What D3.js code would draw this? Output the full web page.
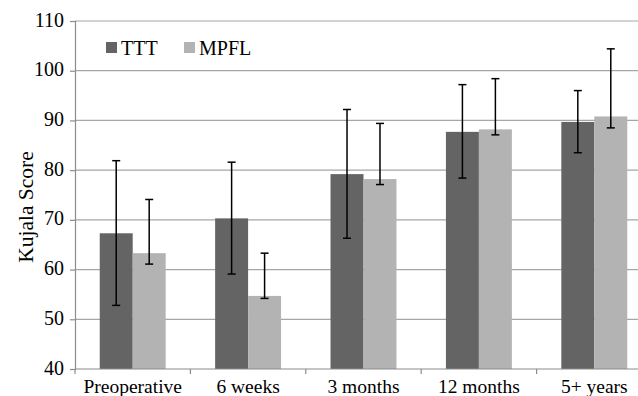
<!DOCTYPE html>
<html>
<head>
<meta charset="utf-8">
<script src="https://cdn.jsdelivr.net/npm/d3@7"></script>
<style>
  body { margin: 0; background: #fff; }
  svg text { font-family: "Liberation Serif", "Times New Roman", serif; fill: #000; }
</style>
</head>
<body>
<svg id="chart" width="638" height="396"></svg>
<script>
// --- data
var categories = ["Preoperative", "6 weeks", "3 months", "12 months", "5+ years"];
var seriesNames = ["TTT", "MPFL"];
var tttMean  = [67.3, 70.3, 79.2, 87.7, 89.7];
var tttHigh  = [81.9, 81.6, 92.2, 97.2, 96.0];
var tttLow   = [52.8, 59.1, 66.3, 78.4, 83.5];
var mpflMean = [63.3, 54.7, 78.2, 88.2, 90.8];
var mpflHigh = [74.1, 63.3, 89.4, 98.4, 104.4];
var mpflLow  = [61.1, 54.2, 77.1, 87.1, 88.5];
var yTicks = [40, 50, 60, 70, 80, 90, 100, 110];

var colors = {TTT: "#646464", MPFL: "#b3b3b3"};
var axisColor = "#8c8c8c";

var svg = d3.select("#chart");

// build rows from the arrays
var rows = categories.map(function(c, i){
    return {
        cat: c,
        values: [
            {series: "TTT",  mean: tttMean[i],  hi: tttHigh[i],  lo: tttLow[i]},
            {series: "MPFL", mean: mpflMean[i], hi: mpflHigh[i], lo: mpflLow[i]}
        ]
    };
});

var x = d3.scaleBand().domain(categories).range([75, 652]).padding(0);
var xSub = d3.scaleBand().domain(seriesNames).range([0, x.bandwidth()]).paddingInner(0).paddingOuter(0.75);
var y = d3.scaleLinear().domain([40, 110]).range([369, 21]);

// -- gridlines
svg.append("g").attr("class", "grid")
    .selectAll("line").data(yTicks.filter(function(d){ return d > 40; }))
    .enter().append("line")
    .attr("x1", 75).attr("x2", 652)
    .attr("y1", function(d){ return y(d); })
    .attr("y2", function(d){ return y(d); })
    .style("stroke", "#a6a6a6").style("stroke-width", 1.2);

// -- y axis
var yAxis = svg.append("g").attr("transform", "translate(75,0)")
    .call(d3.axisLeft(y).tickValues(yTicks).tickSize(5).tickPadding(6));
yAxis.select(".domain").style("stroke", axisColor).style("stroke-width", 1.2);
yAxis.selectAll(".tick line").style("stroke", axisColor).style("stroke-width", 1.2);
yAxis.selectAll("text")
    .style("font-size", "20px")
    .style("font-family", "'Liberation Serif', serif")
    .attr("dy", "0.25em");

// -- bars
var groups = svg.append("g").selectAll(".group").data(rows)
    .enter().append("g")
    .attr("class", "group")
    .attr("transform", function(d){ return "translate(" + x(d.cat) + ",0)"; });

groups.selectAll("rect").data(function(d){ return d.values; })
    .enter().append("rect")
    .attr("x", function(d){ return xSub(d.series); })
    .attr("width", xSub.bandwidth())
    .attr("y", function(d){ return y(d.mean); })
    .attr("height", function(d){ return y(40) - y(d.mean); })
    .style("fill", function(d){ return colors[d.series]; });

// -- error bars
var err = groups.selectAll(".err").data(function(d){ return d.values; })
    .enter().append("g").attr("class", "err")
    .attr("transform", function(d){ return "translate(" + (xSub(d.series) + xSub.bandwidth()/2) + ",0)"; });

err.append("line")
    .attr("x1", 0).attr("x2", 0)
    .attr("y1", function(d){ return y(d.hi); })
    .attr("y2", function(d){ return y(d.lo); });
err.append("line")
    .attr("x1", -4).attr("x2", 4)
    .attr("y1", function(d){ return y(d.hi); })
    .attr("y2", function(d){ return y(d.hi); });
err.append("line")
    .attr("x1", -4).attr("x2", 4)
    .attr("y1", function(d){ return y(d.lo); })
    .attr("y2", function(d){ return y(d.lo); });
err.selectAll("line").style("stroke", "#000").style("stroke-width", 1.5);

// -- x axis
var xAxisG = svg.append("g").attr("transform", "translate(0,369)");
xAxisG.append("line").attr("x1", 75).attr("x2", 652).attr("y1", 0).attr("y2", 0)
    .style("stroke", axisColor).style("stroke-width", 1.2);
xAxisG.selectAll(".xtick").data(categories.concat(["end"]))
    .enter().append("line")
    .attr("x1", function(d, i){ return 75 + i * x.step(); })
    .attr("x2", function(d, i){ return 75 + i * x.step(); })
    .attr("y1", 0).attr("y2", 5)
    .style("stroke", axisColor).style("stroke-width", 1.2);
xAxisG.selectAll(".xlabel").data(categories)
    .enter().append("text")
    .attr("x", function(d){ return x(d) + x.bandwidth()/2; })
    .attr("y", 24)
    .attr("text-anchor", "middle")
    .style("font-size", "19.5px")
    .text(function(d){ return d; });

// -- y title
svg.append("text")
    .attr("transform", "translate(33,207) rotate(-90)")
    .attr("text-anchor", "middle")
    .style("font-size", "21.5px")
    .text("Kujala Score");

// -- legend
var legend = svg.append("g").selectAll(".leg").data(seriesNames)
    .enter().append("g")
    .attr("transform", function(d, i){ return "translate(" + (106 + i * 78) + ",42)"; });
legend.append("rect").attr("width", 11).attr("height", 11)
    .style("fill", function(d){ return colors[d]; });
legend.append("text").attr("x", 15).attr("y", 12.5)
    .style("font-size", "20px")
    .text(function(d){ return d; });
</script>
</body>
</html>
